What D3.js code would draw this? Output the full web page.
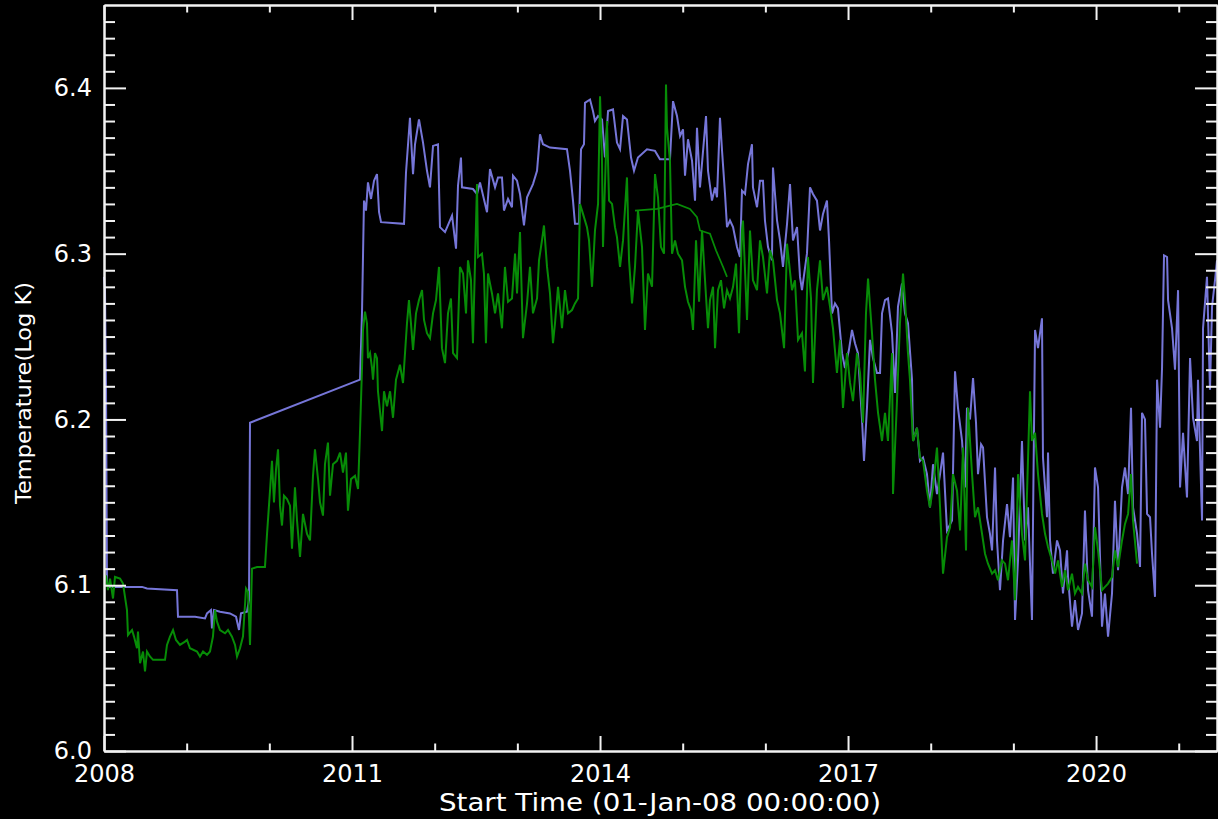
<!DOCTYPE html>
<html>
<head>
<meta charset="utf-8">
<script src="https://cdn.jsdelivr.net/npm/d3@7"></script>
<style>
  html, body { margin: 0; padding: 0; background: #000; }
  svg { display: block; }
  .axis text { fill: #fff; font-family: "DejaVu Sans", sans-serif; font-size: 24px; }
  .axis path, .axis line { stroke: #f2f2f2; }
</style>
</head>
<body>
<div id="chart"></div>
<script>
// [decimal year, log T]
const blueSeries = [
  [2008.000,6.286],[2008.012,6.278],[2008.024,6.222],[2008.036,6.102],[2008.048,6.099],[2008.460,6.099],
  [2008.520,6.098],[2008.883,6.097],[2008.895,6.081],[2009.101,6.081],[2009.222,6.080],[2009.246,6.083],
  [2009.294,6.085],[2009.306,6.074],[2009.331,6.085],[2009.403,6.084],[2009.524,6.083],[2009.597,6.081],
  [2009.633,6.073],[2009.657,6.083],[2009.730,6.084],[2009.754,6.091],[2009.766,6.198],[2011.097,6.224],
  [2011.121,6.265],[2011.145,6.332],[2011.169,6.326],[2011.193,6.343],[2011.230,6.333],[2011.266,6.344],
  [2011.302,6.348],[2011.327,6.325],[2011.351,6.319],[2011.629,6.318],[2011.653,6.349],[2011.701,6.382],
  [2011.738,6.348],[2011.762,6.366],[2011.810,6.381],[2011.859,6.367],[2011.907,6.350],[2011.943,6.340],
  [2011.980,6.365],[2012.040,6.366],[2012.064,6.316],[2012.125,6.313],[2012.210,6.323],[2012.258,6.303],
  [2012.282,6.341],[2012.318,6.358],[2012.330,6.340],[2012.463,6.339],[2012.512,6.336],[2012.548,6.343],
  [2012.633,6.325],[2012.669,6.351],[2012.730,6.340],[2012.766,6.346],[2012.814,6.346],[2012.838,6.326],
  [2012.887,6.333],[2012.935,6.328],[2012.947,6.347],[2012.996,6.344],[2013.032,6.336],[2013.080,6.317],
  [2013.117,6.334],[2013.189,6.342],[2013.238,6.350],[2013.274,6.372],[2013.310,6.366],[2013.395,6.364],
  [2013.600,6.363],[2013.637,6.350],[2013.673,6.332],[2013.697,6.318],[2013.746,6.318],[2013.770,6.363],
  [2013.806,6.366],[2013.818,6.391],[2013.879,6.393],[2013.915,6.386],[2013.939,6.380],[2013.976,6.383],
  [2014.024,6.381],[2014.060,6.358],[2014.097,6.386],[2014.157,6.387],[2014.205,6.367],[2014.242,6.363],
  [2014.278,6.383],[2014.326,6.381],[2014.375,6.358],[2014.411,6.350],[2014.459,6.358],[2014.568,6.363],
  [2014.665,6.362],[2014.725,6.357],[2014.846,6.357],[2014.883,6.392],[2014.931,6.383],[2014.968,6.371],
  [2015.004,6.375],[2015.028,6.347],[2015.064,6.369],[2015.113,6.356],[2015.149,6.332],[2015.173,6.376],
  [2015.209,6.340],[2015.282,6.383],[2015.306,6.350],[2015.354,6.332],[2015.391,6.340],[2015.415,6.334],
  [2015.451,6.382],[2015.476,6.362],[2015.512,6.336],[2015.536,6.316],[2015.572,6.320],[2015.609,6.316],
  [2015.657,6.304],[2015.693,6.298],[2015.717,6.338],[2015.754,6.336],[2015.790,6.354],[2015.838,6.366],
  [2015.850,6.340],[2015.899,6.328],[2015.935,6.344],[2015.971,6.344],[2015.995,6.320],[2016.032,6.304],
  [2016.080,6.296],[2016.092,6.352],[2016.141,6.320],[2016.177,6.308],[2016.213,6.292],[2016.262,6.318],
  [2016.298,6.342],[2016.334,6.308],[2016.383,6.316],[2016.419,6.286],[2016.443,6.278],[2016.503,6.300],
  [2016.540,6.340],[2016.576,6.336],[2016.624,6.332],[2016.661,6.314],[2016.697,6.324],[2016.745,6.332],
  [2016.770,6.308],[2016.806,6.264],[2016.842,6.270],[2016.878,6.267],[2016.927,6.240],[2016.963,6.231],
  [2017.011,6.242],[2017.048,6.254],[2017.084,6.246],[2017.120,6.240],[2017.169,6.200],[2017.193,6.175],
  [2017.229,6.207],[2017.266,6.248],[2017.302,6.237],[2017.350,6.228],[2017.387,6.228],[2017.411,6.264],
  [2017.447,6.272],[2017.483,6.273],[2017.532,6.252],[2017.568,6.216],[2017.604,6.268],[2017.653,6.282],
  [2017.689,6.264],[2017.725,6.258],[2017.774,6.224],[2017.786,6.187],[2017.834,6.195],[2017.870,6.175],
  [2017.907,6.177],[2017.955,6.167],[2017.991,6.147],[2018.028,6.173],[2018.076,6.155],[2018.113,6.167],
  [2018.149,6.180],[2018.197,6.133],[2018.258,6.139],[2018.294,6.229],[2018.330,6.207],[2018.379,6.187],
  [2018.415,6.159],[2018.439,6.207],[2018.475,6.200],[2018.512,6.225],[2018.548,6.198],[2018.572,6.167],
  [2018.609,6.185],[2018.633,6.183],[2018.681,6.141],[2018.717,6.131],[2018.742,6.121],[2018.778,6.171],
  [2018.802,6.127],[2018.838,6.097],[2018.875,6.127],[2018.923,6.149],[2018.959,6.129],[2018.996,6.165],
  [2019.020,6.079],[2019.056,6.115],[2019.104,6.187],[2019.141,6.127],[2019.177,6.147],[2019.225,6.079],
  [2019.262,6.254],[2019.298,6.243],[2019.346,6.261],[2019.358,6.177],[2019.407,6.141],[2019.419,6.180],
  [2019.443,6.127],[2019.479,6.107],[2019.528,6.127],[2019.564,6.121],[2019.600,6.095],[2019.649,6.121],
  [2019.661,6.105],[2019.709,6.075],[2019.745,6.091],[2019.782,6.073],[2019.830,6.083],[2019.866,6.145],
  [2019.903,6.097],[2019.951,6.081],[2019.987,6.171],[2020.024,6.159],[2020.072,6.075],[2020.108,6.095],
  [2020.145,6.069],[2020.193,6.095],[2020.229,6.151],[2020.266,6.109],[2020.314,6.159],[2020.350,6.171],
  [2020.387,6.155],[2020.423,6.207],[2020.447,6.147],[2020.496,6.131],[2020.532,6.111],[2020.556,6.204],
  [2020.592,6.200],[2020.617,6.143],[2020.653,6.141],[2020.677,6.119],[2020.713,6.093],[2020.738,6.224],
  [2020.774,6.195],[2020.798,6.231],[2020.822,6.299],[2020.859,6.298],[2020.871,6.272],[2020.919,6.255],
  [2020.955,6.230],[2020.992,6.278],[2021.016,6.159],[2021.052,6.192],[2021.100,6.153],[2021.137,6.237],
  [2021.173,6.201],[2021.221,6.187],[2021.233,6.224],[2021.282,6.139],[2021.294,6.255],[2021.342,6.286],
  [2021.378,6.218],[2021.403,6.268],[2021.439,6.284],[2021.463,6.296]
];

const greenSeries = [
  [2008.024,6.106],[2008.048,6.097],[2008.073,6.104],[2008.109,6.092],[2008.133,6.105],[2008.194,6.104],
  [2008.230,6.101],[2008.254,6.093],[2008.278,6.085],[2008.290,6.070],[2008.339,6.073],[2008.363,6.069],
  [2008.399,6.062],[2008.411,6.072],[2008.436,6.053],[2008.472,6.060],[2008.496,6.048],[2008.520,6.060],
  [2008.556,6.057],[2008.593,6.055],[2008.738,6.055],[2008.762,6.064],[2008.798,6.069],[2008.835,6.073],
  [2008.871,6.067],[2008.919,6.064],[2008.980,6.066],[2009.004,6.067],[2009.040,6.062],[2009.125,6.060],
  [2009.161,6.057],[2009.198,6.060],[2009.246,6.058],[2009.282,6.060],[2009.318,6.069],[2009.343,6.085],
  [2009.367,6.078],[2009.403,6.073],[2009.464,6.071],[2009.500,6.073],[2009.548,6.069],[2009.585,6.064],
  [2009.609,6.057],[2009.645,6.062],[2009.681,6.069],[2009.718,6.098],[2009.742,6.096],[2009.766,6.064],
  [2009.790,6.110],[2009.851,6.111],[2009.947,6.111],[2009.972,6.131],[2010.008,6.157],[2010.032,6.175],
  [2010.056,6.150],[2010.081,6.170],[2010.105,6.182],[2010.129,6.148],[2010.153,6.136],[2010.177,6.154],
  [2010.214,6.152],[2010.250,6.148],[2010.274,6.122],[2010.310,6.159],[2010.335,6.139],[2010.371,6.117],
  [2010.407,6.143],[2010.456,6.131],[2010.492,6.127],[2010.528,6.166],[2010.552,6.182],[2010.589,6.164],
  [2010.613,6.150],[2010.649,6.142],[2010.673,6.173],[2010.709,6.186],[2010.734,6.154],[2010.770,6.173],
  [2010.818,6.175],[2010.855,6.180],[2010.891,6.168],[2010.927,6.180],[2010.951,6.145],[2010.988,6.164],
  [2011.036,6.166],[2011.073,6.158],[2011.097,6.193],[2011.121,6.231],[2011.133,6.254],[2011.157,6.265],
  [2011.181,6.258],[2011.193,6.237],[2011.218,6.240],[2011.242,6.231],[2011.254,6.224],[2011.278,6.240],
  [2011.302,6.237],[2011.314,6.217],[2011.363,6.193],[2011.387,6.217],[2011.423,6.208],[2011.460,6.217],
  [2011.496,6.201],[2011.532,6.224],[2011.580,6.233],[2011.617,6.222],[2011.641,6.240],[2011.665,6.258],
  [2011.689,6.272],[2011.713,6.258],[2011.738,6.242],[2011.774,6.264],[2011.810,6.272],[2011.847,6.278],
  [2011.871,6.260],[2011.907,6.252],[2011.943,6.249],[2011.980,6.264],[2012.016,6.272],[2012.052,6.292],
  [2012.088,6.243],[2012.125,6.234],[2012.161,6.264],[2012.197,6.273],[2012.222,6.240],[2012.270,6.237],
  [2012.306,6.292],[2012.343,6.288],[2012.379,6.264],[2012.403,6.296],[2012.439,6.284],[2012.463,6.246],
  [2012.512,6.342],[2012.524,6.298],[2012.572,6.300],[2012.596,6.288],[2012.620,6.246],[2012.645,6.288],
  [2012.693,6.276],[2012.730,6.264],[2012.766,6.276],[2012.814,6.255],[2012.850,6.292],[2012.887,6.271],
  [2012.935,6.273],[2012.972,6.300],[2012.996,6.276],[2013.032,6.313],[2013.068,6.249],[2013.117,6.270],
  [2013.153,6.292],[2013.189,6.264],[2013.238,6.273],[2013.262,6.296],[2013.298,6.308],[2013.322,6.317],
  [2013.359,6.292],[2013.395,6.276],[2013.431,6.246],[2013.455,6.258],[2013.492,6.280],[2013.540,6.255],
  [2013.576,6.278],[2013.613,6.264],[2013.661,6.266],[2013.697,6.270],[2013.734,6.273],[2013.758,6.330],
  [2013.794,6.324],[2013.842,6.316],[2013.867,6.308],[2013.903,6.280],[2013.939,6.314],[2013.976,6.330],
  [2014.000,6.395],[2014.024,6.356],[2014.036,6.304],[2014.084,6.380],[2014.109,6.332],[2014.145,6.330],
  [2014.181,6.316],[2014.205,6.310],[2014.242,6.292],[2014.278,6.308],[2014.326,6.346],[2014.351,6.296],
  [2014.387,6.270],[2014.423,6.292],[2014.459,6.326],[2014.508,6.304],[2014.544,6.254],[2014.580,6.288],
  [2014.629,6.280],[2014.665,6.348],[2014.701,6.334],[2014.737,6.304],[2014.774,6.300],[2014.798,6.402],
  [2014.810,6.376],[2014.846,6.356],[2014.871,6.300],[2014.907,6.308],[2014.943,6.300],[2014.992,6.296],
  [2015.028,6.280],[2015.064,6.271],[2015.101,6.266],[2015.125,6.254],[2015.161,6.308],[2015.198,6.271],
  [2015.234,6.314],[2015.270,6.284],[2015.306,6.255],[2015.330,6.272],[2015.367,6.280],[2015.391,6.243],
  [2015.427,6.278],[2015.463,6.284],[2015.500,6.267],[2015.536,6.278],[2015.572,6.273],[2015.609,6.280],
  [2015.645,6.294],[2015.681,6.252],[2015.717,6.314],[2015.729,6.320],[2015.778,6.260],[2015.814,6.314],
  [2015.850,6.284],[2015.899,6.278],[2015.935,6.308],[2015.971,6.298],[2016.020,6.276],[2016.056,6.302],
  [2016.092,6.296],[2016.141,6.272],[2016.177,6.264],[2016.226,6.243],[2016.262,6.306],[2016.322,6.278],
  [2016.358,6.284],[2016.395,6.248],[2016.443,6.252],[2016.479,6.229],[2016.515,6.298],[2016.552,6.273],
  [2016.576,6.222],[2016.624,6.278],[2016.661,6.296],[2016.697,6.272],[2016.745,6.280],[2016.782,6.268],
  [2016.818,6.255],[2016.866,6.228],[2016.903,6.248],[2016.939,6.207],[2016.987,6.240],[2017.024,6.222],
  [2017.060,6.211],[2017.108,6.240],[2017.145,6.228],[2017.181,6.198],[2017.217,6.264],[2017.242,6.285],
  [2017.290,6.252],[2017.326,6.224],[2017.363,6.204],[2017.411,6.187],[2017.447,6.204],[2017.483,6.187],
  [2017.532,6.240],[2017.544,6.155],[2017.592,6.211],[2017.628,6.258],[2017.665,6.288],[2017.689,6.272],
  [2017.725,6.240],[2017.749,6.224],[2017.786,6.187],[2017.834,6.195],[2017.870,6.177],[2017.907,6.175],
  [2017.955,6.157],[2017.991,6.147],[2018.028,6.159],[2018.076,6.183],[2018.113,6.147],[2018.149,6.107],
  [2018.197,6.129],[2018.234,6.135],[2018.270,6.167],[2018.318,6.157],[2018.355,6.133],[2018.391,6.183],
  [2018.427,6.121],[2018.451,6.207],[2018.500,6.167],[2018.536,6.141],[2018.572,6.147],[2018.621,6.131],
  [2018.657,6.119],[2018.693,6.113],[2018.742,6.107],[2018.778,6.109],[2018.814,6.103],[2018.862,6.115],
  [2018.899,6.113],[2018.935,6.103],[2018.983,6.127],[2019.020,6.091],[2019.056,6.167],[2019.104,6.131],
  [2019.141,6.115],[2019.201,6.217],[2019.225,6.187],[2019.262,6.192],[2019.298,6.167],[2019.346,6.143],
  [2019.383,6.131],[2019.419,6.123],[2019.467,6.115],[2019.504,6.107],[2019.540,6.115],[2019.588,6.099],
  [2019.625,6.109],[2019.661,6.097],[2019.709,6.107],[2019.745,6.095],[2019.782,6.099],[2019.830,6.095],
  [2019.866,6.113],[2019.903,6.103],[2019.951,6.099],[2019.987,6.135],[2020.024,6.121],[2020.072,6.097],
  [2020.108,6.099],[2020.145,6.101],[2020.193,6.105],[2020.229,6.121],[2020.266,6.111],[2020.314,6.127],
  [2020.350,6.137],[2020.387,6.143],[2020.423,6.167],[2020.447,6.139],[2020.496,6.113]
];

// thin green segment across the 2014-2015 gap
const greenBridge = [
  [2014.423,6.326],[2014.689,6.327],[2014.931,6.330],[2015.088,6.327],[2015.173,6.322],
  [2015.209,6.314],[2015.330,6.312],[2015.403,6.302],[2015.488,6.292],[2015.536,6.286]
];

const xMajorTicks = [2008, 2011, 2014, 2017, 2020];
const xMinorTicks = [2009, 2010, 2012, 2013, 2015, 2016, 2018, 2019, 2021];
const yMajorTicks = [6.0, 6.1, 6.2, 6.3, 6.4];
const xTitle = "Start Time (01-Jan-08 00:00:00)";
const yTitle = "Temperature(Log K)";

const W = 1218, H = 819;
const margin = {left: 104, right: 1217, top: 5, bottom: 751};

const svg = d3.select('#chart').append('svg')
    .attr('width', W)
    .attr('height', H)
    .style('background', '#000');

const x = d3.scaleLinear().domain([2008, 2021.463]).range([margin.left, margin.right]);
const y = d3.scaleLinear().domain([6.0, 6.45]).range([margin.bottom, margin.top]);

// minor y ticks every 0.01
const yMinorTicks = d3.range(1, 45).map(i => +(6 + i * 0.01).toFixed(2)).filter(v => yMajorTicks.indexOf(v) < 0);

const line = d3.line().x(d => x(d[0])).y(d => y(d[1]));

const plot = svg.append('g');
plot.append('path').datum(blueSeries)
    .attr('d', line).attr('fill', 'none')
    .attr('stroke', '#7676d8').attr('stroke-width', 2).attr('stroke-linejoin', 'miter');
plot.append('path').datum(greenBridge)
    .attr('d', line).attr('fill', 'none')
    .attr('stroke', '#078c07').attr('stroke-width', 1.7);
plot.append('path').datum(greenSeries)
    .attr('d', line).attr('fill', 'none')
    .attr('stroke', '#078c07').attr('stroke-width', 2).attr('stroke-linejoin', 'miter');

// axes (IDL style box, ticks pointing inwards)
function styleAxis(g){
    g.selectAll('path').attr('stroke-width', 2);
    g.selectAll('line').attr('stroke-width', 2);
}

const xLen = 15, yLen = 22;

svg.append('g').attr('class', 'axis')
    .attr('transform', `translate(0,${margin.bottom})`)
    .call(d3.axisBottom(x).tickValues(xMajorTicks).tickSizeInner(-xLen).tickSizeOuter(0)
        .tickPadding(14).tickFormat(d3.format('d')))
    .call(styleAxis);
svg.append('g').attr('class', 'axis')
    .attr('transform', `translate(0,${margin.bottom})`)
    .call(d3.axisBottom(x).tickValues(xMinorTicks).tickSizeInner(-xLen / 2).tickSizeOuter(0).tickFormat(''))
    .call(styleAxis);

svg.append('g').attr('class', 'axis')
    .attr('transform', `translate(0,${margin.top})`)
    .call(d3.axisTop(x).tickValues(xMajorTicks).tickSizeInner(-xLen).tickSizeOuter(0).tickFormat(''))
    .call(styleAxis);
svg.append('g').attr('class', 'axis')
    .attr('transform', `translate(0,${margin.top})`)
    .call(d3.axisTop(x).tickValues(xMinorTicks).tickSizeInner(-xLen / 2).tickSizeOuter(0).tickFormat(''))
    .call(styleAxis);

svg.append('g').attr('class', 'axis')
    .attr('transform', `translate(${margin.left},0)`)
    .call(d3.axisLeft(y).tickValues(yMajorTicks).tickSizeInner(-yLen).tickSizeOuter(0)
        .tickPadding(12).tickFormat(d3.format('.1f')))
    .call(styleAxis);
svg.append('g').attr('class', 'axis')
    .attr('transform', `translate(${margin.left},0)`)
    .call(d3.axisLeft(y).tickValues(yMinorTicks).tickSizeInner(-yLen / 2).tickSizeOuter(0).tickFormat(''))
    .call(styleAxis);

svg.append('g').attr('class', 'axis')
    .attr('transform', `translate(${margin.right},0)`)
    .call(d3.axisRight(y).tickValues(yMajorTicks).tickSizeInner(-yLen).tickSizeOuter(0).tickFormat(''))
    .call(styleAxis);
svg.append('g').attr('class', 'axis')
    .attr('transform', `translate(${margin.right},0)`)
    .call(d3.axisRight(y).tickValues(yMinorTicks).tickSizeInner(-yLen / 2).tickSizeOuter(0).tickFormat(''))
    .call(styleAxis);

// axis titles
svg.append('text')
    .attr('x', 660).attr('y', 811)
    .attr('text-anchor', 'middle')
    .attr('fill', '#fff')
    .style('font-family', '"DejaVu Sans", sans-serif')
    .style('font-size', '24px')
    .attr('textLength', 442).attr('lengthAdjust', 'spacingAndGlyphs')
    .text(xTitle);

svg.append('text')
    .attr('transform', 'translate(31,393) rotate(-90)')
    .attr('text-anchor', 'middle')
    .attr('fill', '#fff')
    .style('font-family', '"DejaVu Sans", sans-serif')
    .style('font-size', '22px')
    .attr('textLength', 222).attr('lengthAdjust', 'spacingAndGlyphs')
    .text(yTitle);
</script>
</body>
</html>
